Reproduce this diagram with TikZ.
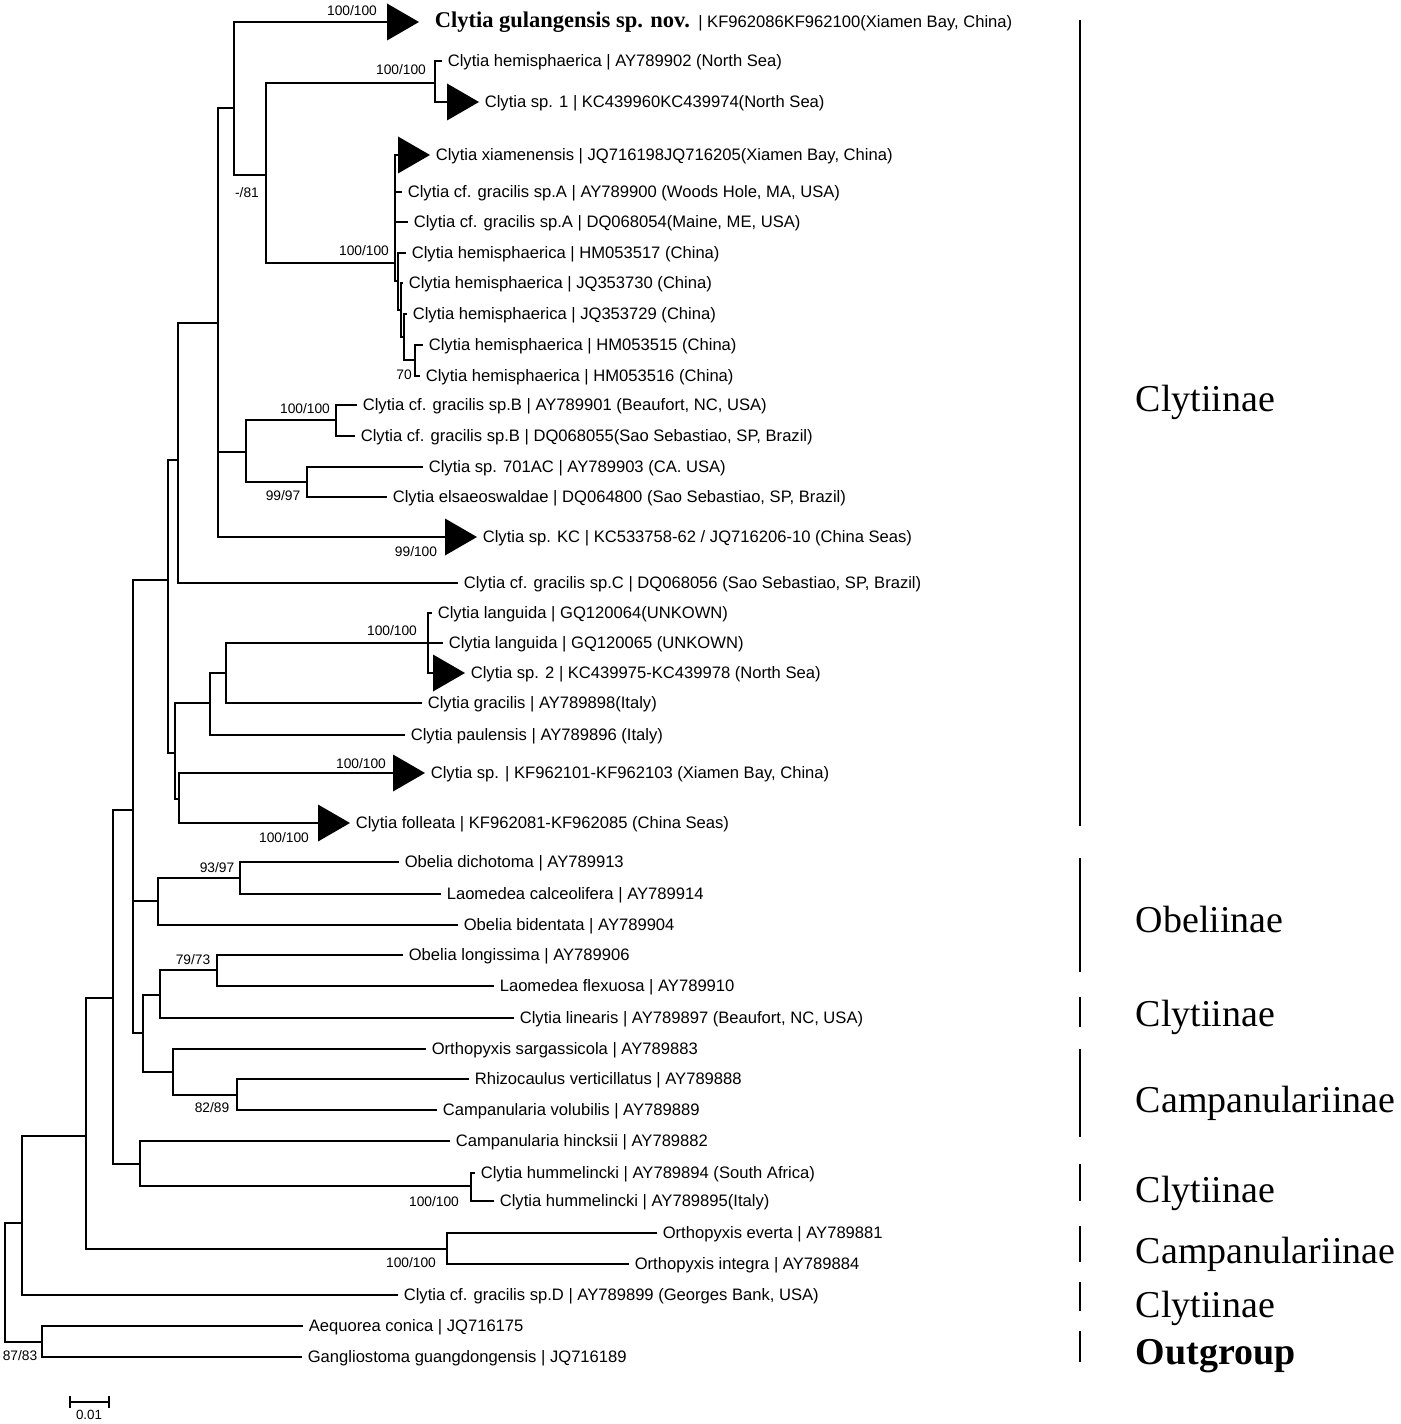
\documentclass[tikz,border=0pt]{standalone}
\usepackage{fontspec}
\setmainfont{Liberation Serif}
\setsansfont{Liberation Sans}

\begin{document}
\begin{tikzpicture}[x=0.025cm,y=-0.025cm,line width=1.25pt,
		hoja/.style={anchor=west,inner xsep=3.5pt,inner ysep=0pt,text height=9.4pt,text depth=1.8pt,font=\sffamily\fontsize{11.8}{14}\selectfont},
		soporte/.style={inner sep=0pt,font=\sffamily\fontsize{9.8}{12}\selectfont},
		grupo/.style={anchor=base west,inner sep=0pt,font=\rmfamily\fontsize{27}{30}\selectfont},
		barra/.style={line width=1.7pt},
		clado/.pic={\fill (0,-18.5) -- (32,0) -- (0,18.5) -- cycle;}]
		\useasboundingbox (0,0) rectangle (1400,1424); %marco
		% nodos internos
		\coordinate (r) at (5,1282); \coordinate (n1) at (22,1223); \coordinate (n2) at (86,1136); %raiz
		\coordinate (n3) at (113,998); \coordinate (n4) at (133,810); \coordinate (n5) at (168,580);
		\coordinate (n7) at (178,460); \coordinate (n9) at (218,323); \coordinate (n10) at (234,108);
		\coordinate (n12) at (266,175); \coordinate (n13) at (435,83); \coordinate (na) at (395,263);
		\coordinate (nb) at (398,281); \coordinate (nb2) at (401,310); \coordinate (nc) at (404,337); \coordinate (nd) at (415,360);
		\coordinate (n11) at (246,452); \coordinate (nsb) at (336,420); \coordinate (nsc) at (307,482);
		\coordinate (n8) at (175,753); \coordinate (n14) at (210,703); \coordinate (n16) at (226,673);
		\coordinate (n17) at (428,643); \coordinate (n15) at (179,799);
		\coordinate (nob) at (158,901); \coordinate (n18) at (240,878); \coordinate (n6) at (143,1033);
		\coordinate (n19) at (160,995); \coordinate (n21) at (217,970); \coordinate (n20) at (173,1072);
		\coordinate (n22) at (237,1095); \coordinate (nhu) at (140,1164); \coordinate (n23) at (471,1186);
		\coordinate (nor) at (447,1249); \coordinate (nout) at (42,1342);
		% clados colapsados
		\coordinate (t1) at (387,22); \coordinate (t2) at (447,102); \coordinate (t3) at (398,155);
		\coordinate (t4) at (445,537); \coordinate (t5) at (433,673); \coordinate (t6) at (393,773); \coordinate (t7) at (318,823);
		\foreach \t in {t1,t2,t3,t4,t5,t6,t7} \pic at (\t) {clado};
		% hojas
		\node[hoja] (c1) at (429,22) {{\rmfamily\bfseries\fontsize{16}{18}\selectfont Clytia gulangensis sp. nov.}\hspace{6pt}| KF962086KF962100(Xiamen Bay, China)};
		\node[hoja] (l1) at (442,61) {Clytia hemisphaerica | AY789902 (North Sea)};
		\node[hoja] (c2) at (479,102) {Clytia sp. 1 | KC439960KC439974(North Sea)};
		\node[hoja] (c3) at (430,155) {Clytia xiamenensis | JQ716198JQ716205(Xiamen Bay, China)};
		\node[hoja] (l2) at (402,192) {Clytia cf. gracilis sp.A | AY789900 (Woods Hole, MA, USA)};
		\node[hoja] (l3) at (408,222) {Clytia cf. gracilis sp.A | DQ068054(Maine, ME, USA)};
		\node[hoja] (l4) at (406,253) {Clytia hemisphaerica | HM053517 (China)};
		\node[hoja] (l5) at (403,283) {Clytia hemisphaerica | JQ353730 (China)};
		\node[hoja] (l6) at (407,314) {Clytia hemisphaerica | JQ353729 (China)};
		\node[hoja] (l7) at (423,345) {Clytia hemisphaerica | HM053515 (China)};
		\node[hoja] (l8) at (420,376) {Clytia hemisphaerica | HM053516 (China)};
		\node[hoja] (l9) at (357,405) {Clytia cf. gracilis sp.B | AY789901 (Beaufort, NC, USA)};
		\node[hoja] (l10) at (355,436) {Clytia cf. gracilis sp.B | DQ068055(Sao Sebastiao, SP, Brazil)};
		\node[hoja] (l11) at (423,467) {Clytia sp. 701AC | AY789903 (CA. USA)};
		\node[hoja] (l12) at (387,497) {Clytia elsaeoswaldae | DQ064800 (Sao Sebastiao, SP, Brazil)};
		\node[hoja] (c4) at (477,537) {Clytia sp. KC | KC533758-62 / JQ716206-10 (China Seas)};
		\node[hoja] (l13) at (458,583) {Clytia cf. gracilis sp.C | DQ068056 (Sao Sebastiao, SP, Brazil)};
		\node[hoja] (l14) at (432,613) {Clytia languida | GQ120064(UNKOWN)};
		\node[hoja] (l15) at (443,643) {Clytia languida | GQ120065 (UNKOWN)};
		\node[hoja] (c5) at (465,673) {Clytia sp. 2 | KC439975-KC439978 (North Sea)};
		\node[hoja] (l16) at (422,703) {Clytia gracilis | AY789898(Italy)};
		\node[hoja] (l17) at (405,735) {Clytia paulensis | AY789896 (Italy)};
		\node[hoja] (c6) at (425,773) {Clytia sp. | KF962101-KF962103 (Xiamen Bay, China)};
		\node[hoja] (c7) at (350,823) {Clytia folleata | KF962081-KF962085 (China Seas)};
		\node[hoja] (l18) at (399,862) {Obelia dichotoma | AY789913};
		\node[hoja] (l19) at (441,894) {Laomedea calceolifera | AY789914};
		\node[hoja] (l20) at (458,925) {Obelia bidentata | AY789904};
		\node[hoja] (l21) at (403,955) {Obelia longissima | AY789906};
		\node[hoja] (l22) at (494,986) {Laomedea flexuosa | AY789910};
		\node[hoja] (l23) at (514,1018) {Clytia linearis | AY789897 (Beaufort, NC, USA)};
		\node[hoja] (l24) at (426,1049) {Orthopyxis sargassicola | AY789883};
		\node[hoja] (l25) at (469,1079) {Rhizocaulus verticillatus | AY789888};
		\node[hoja] (l26) at (437,1110) {Campanularia volubilis | AY789889};
		\node[hoja] (l27) at (450,1141) {Campanularia hincksii | AY789882};
		\node[hoja] (l28) at (475,1173) {Clytia hummelincki | AY789894 (South Africa)};
		\node[hoja] (l29) at (494,1201) {Clytia hummelincki | AY789895(Italy)};
		\node[hoja] (l30) at (657,1233) {Orthopyxis everta | AY789881};
		\node[hoja] (l31) at (629,1264) {Orthopyxis integra | AY789884};
		\node[hoja] (l32) at (398,1295) {Clytia cf. gracilis sp.D | AY789899 (Georges Bank, USA)};
		\node[hoja] (l33) at (303,1326) {Aequorea conica | JQ716175};
		\node[hoja] (l34) at (302,1357) {Gangliostoma guangdongensis | JQ716189};
		% ramas
		\draw (r) |- (n1) (r) |- (nout); %raiz
		\draw (n1) |- (n2) (n1) |- (l32.west);
		\draw (n2) |- (n3) (n2) |- (nor);
		\draw (n3) |- (n4) (n3) |- (nhu);
		\draw (n4) |- (n5) (n4) |- (nob) (n4) |- (n6);
		\draw (n5) |- (n7) (n5) |- (n8);
		\draw (n7) |- (n9) (n7) |- (l13.west);
		\draw (n9) |- (n10) (n9) |- (n11) (n9) |- (t4);
		\draw (n10) |- (t1) (n10) |- (n12);
		\draw (n12) |- (n13) (n12) |- (na);
		\draw (n13) |- (l1.west) (n13) |- (t2);
		\draw (na) |- (t3) (na) |- (l2.west) (na) |- (l3.west) (na) |- (nb); %hemisphaerica
		\draw (nb) |- (l4.west) (nb) |- (nb2);
		\draw (nb2) |- (l5.west) (nb2) |- (nc);
		\draw (nc) |- (l6.west) (nc) |- (nd);
		\draw (nd) |- (l7.west) (nd) |- (l8.west);
		\draw (n11) |- (nsb) (n11) |- (nsc);
		\draw (nsb) |- (l9.west) (nsb) |- (l10.west);
		\draw (nsc) |- (l11.west) (nsc) |- (l12.west);
		\draw (n8) |- (n14) (n8) |- (n15);
		\draw (n14) |- (n16) (n14) |- (l17.west);
		\draw (n16) |- (n17) (n16) |- (l16.west);
		\draw (n17) |- (l14.west) (n17) |- (l15.west) (n17) |- (t5); %languida
		\draw (n15) |- (t6) (n15) |- (t7);
		\draw (nob) |- (n18) (nob) |- (l20.west); %Obelia
		\draw (n18) |- (l18.west) (n18) |- (l19.west);
		\draw (n6) |- (n19) (n6) |- (n20);
		\draw (n19) |- (n21) (n19) |- (l23.west);
		\draw (n21) |- (l21.west) (n21) |- (l22.west);
		\draw (n20) |- (l24.west) (n20) |- (n22);
		\draw (n22) |- (l25.west) (n22) |- (l26.west);
		\draw (nhu) |- (l27.west) (nhu) |- (n23);
		\draw (n23) |- (l28.west) (n23) |- (l29.west);
		\draw (nor) |- (l30.west) (nor) |- (l31.west);
		\draw (nout) |- (l33.west) (nout) |- (l34.west); %grupo externo
		% valores de soporte
		\node[soporte] (s1) at (352,11) {100/100};
		\node[soporte] (s2) at (401,70) {100/100};
		\node[soporte] (s3) at (247,193) {-/81};
		\node[soporte] (s4) at (364,251) {100/100};
		\node[soporte] (s5) at (404,375) {70};
		\node[soporte] (s6) at (305,409) {100/100};
		\node[soporte] (s7) at (283,496) {99/97};
		\node[soporte] (s8) at (416,552) {99/100};
		\node[soporte] (s9) at (392,631) {100/100};
		\node[soporte] (s10) at (361,764) {100/100};
		\node[soporte] (s11) at (284,838) {100/100};
		\node[soporte] (s12) at (217,868) {93/97};
		\node[soporte] (s13) at (193,960) {79/73};
		\node[soporte] (s14) at (212,1108) {82/89};
		\node[soporte] (s15) at (434,1202) {100/100};
		\node[soporte] (s16) at (411,1263) {100/100};
		\node[soporte] (s17) at (20,1356) {87/83};
		% barras y subfamilias
		\draw[barra] (1080,20) -- (1080,826); \node[grupo] (g1) at (1135,411) {Clytiinae};
		\draw[barra] (1080,858) -- (1080,972); \node[grupo] (g2) at (1135,932) {Obeliinae};
		\draw[barra] (1080,997) -- (1080,1027); \node[grupo] (g3) at (1135,1026) {Clytiinae};
		\draw[barra] (1080,1049) -- (1080,1137); \node[grupo] (g4) at (1135,1112) {Campanulariinae};
		\draw[barra] (1080,1164) -- (1080,1201); \node[grupo] (g5) at (1135,1202) {Clytiinae};
		\draw[barra] (1080,1226) -- (1080,1262); \node[grupo] (g6) at (1135,1263) {Campanulariinae};
		\draw[barra] (1080,1282) -- (1080,1311); \node[grupo] (g7) at (1135,1317) {Clytiinae};
		\draw[barra] (1080,1331) -- (1080,1362); \node[grupo,font=\rmfamily\bfseries\fontsize{27}{30}\selectfont] (g8) at (1135,1364) {Outgroup};
		% escala
		\draw (70,1396) -- (70,1408) (70,1402) -- (109,1402) (109,1396) -- (109,1408); %barra de escala
		\node[soporte,font=\sffamily\fontsize{9.5}{12}\selectfont] (esc) at (89,1415) {0.01};
\end{tikzpicture}
\end{document}
